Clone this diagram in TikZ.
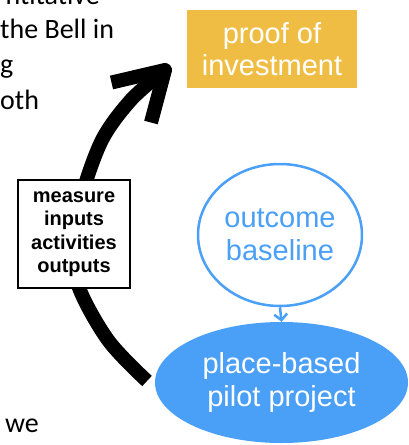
\documentclass[tikz,border=0pt]{standalone}
\usepackage{fontspec}
\setmainfont{Liberation Sans}
\newfontfamily\bodyfont{Carlito}
\usetikzlibrary{shapes.geometric,arrows.meta}

\definecolor{proofyellow}{HTML}{EFBD43}
\definecolor{pilotblue}{HTML}{4A9FF6}

\tikzset{
  bgtext/.style={anchor=base west, inner sep=0pt, font=\bodyfont\fontsize{28}{34}\selectfont},
  bigfont/.style={font=\fontsize{29}{32.5}\selectfont, align=center},
  proofbox/.style={rectangle, fill=proofyellow, text=white, bigfont,
    minimum width=170pt, minimum height=78pt, inner sep=0pt},
  baselinebox/.style={ellipse, draw=pilotblue, line width=2.5pt, fill=white,
    text=pilotblue, bigfont, minimum width=164pt, minimum height=142pt, inner sep=0pt},
  pilotbox/.style={ellipse, fill=pilotblue, text=white, bigfont,
    minimum width=253pt, minimum height=121pt, inner sep=0pt},
  measurebox/.style={rectangle, draw=black, line width=2pt, fill=white, align=center,
    font=\bfseries\fontsize{20}{23.5}\selectfont,
    minimum width=112pt, minimum height=108pt, inner sep=0pt},
  loopline/.style={line width=14pt, black},
  smallarrow/.style={draw=pilotblue, line width=2.5pt,
    -{Straight Barb[length=6pt,width=13pt]}}
}

\begin{document}
\begin{tikzpicture}[x=1pt, y=-1pt]
  \useasboundingbox (0,0) rectangle (409,445);
  \clip (0,0) rectangle (409,445);

  % surrounding body text
  \node[bgtext, anchor=base east] (t1) at (100,4) {ntitative};
  \node[bgtext] (t2) at (0,38) {the Bell in};
  \node[bgtext] (t3) at (0,73) {g};
  \node[bgtext] (t4) at (0,109) {oth};
  \node[bgtext] (t5) at (5,432) {we};

  % the loop arrow from the pilot back up to the investment proof
  \coordinate (loopstart) at (147,381);
  \coordinate (loopend) at (160,74);
  \coordinate (tip) at (165,70);
  \coordinate (barbleft) at (111.5,82.5);
  \coordinate (barbright) at (151,122.5);
  \draw[loopline] plot[smooth, tension=0.55] coordinates
    {(loopstart) (108,340) (78,285) (74,240) (82,195) (102,140) (130,101) (loopend)};
  \draw[loopline, line join=round, line cap=butt] (barbleft) -- (tip) -- (barbright);

  % nodes
  \node[proofbox] (proof) at (272,49) {proof of\\investment};
  \node[measurebox] (measure) at (74,234) {measure\\inputs\\activities\\outputs};
  \node[baselinebox] (base) at (280,235) {outcome\\baseline};
  \node[pilotbox] (pilot) at (281.5,382.5) {place-based\\pilot project};

  \draw[smallarrow] (base.south) -- (pilot.north);
\end{tikzpicture}
\end{document}
